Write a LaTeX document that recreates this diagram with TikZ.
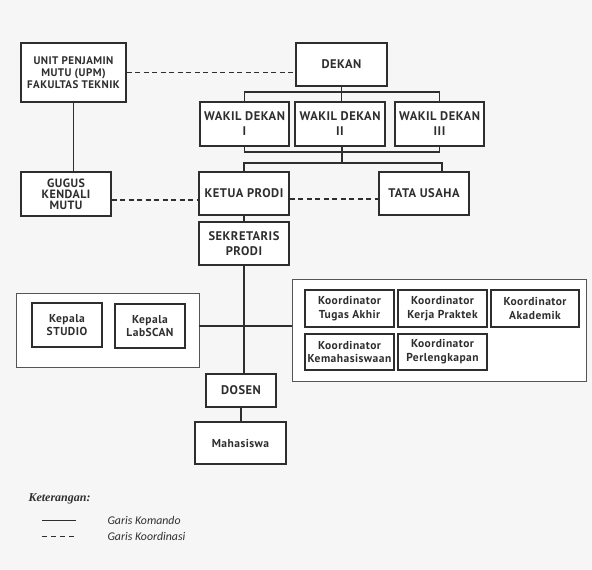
\documentclass[tikz,border=0pt]{standalone}
\usepackage{fontspec}
\setmainfont{Carlito}
\newfontfamily\boxup[LetterSpace=4]{PT Sans}
\newfontfamily\legserif{Liberation Serif}
\definecolor{bg}{HTML}{F6F6F6}
\definecolor{ink}{HTML}{2E2E2E}
\definecolor{grp}{HTML}{555555}
\begin{document}
\begin{tikzpicture}[x=1pt,y=-1pt,
  box/.style={draw=ink,line width=1.6pt,fill=white,text=ink,align=center,inner sep=0pt,
    font=\boxup\fontsize{12.5}{15}\selectfont\bfseries},
  upmbox/.style={box,font=\boxup\fontsize{11}{12.2}\selectfont\bfseries},
  gbox/.style={box,font=\boxup\fontsize{12}{11.2}\selectfont\bfseries},
  sbox/.style={box,font=\boxup\fontsize{11.5}{13.8}\selectfont\bfseries},
  grpbox/.style={draw=grp,line width=0.8pt,fill=white,inner sep=0pt},
  cmd/.style={draw=ink,line width=1.1pt},
  coord/.style={draw=ink,line width=1.1pt,dash pattern=on 5pt off 3.5pt}]
\path[fill=bg] (0,0) rectangle (592,570);
\useasboundingbox (0,0) rectangle (592,570);
% groups
\node[grpbox,minimum width=183,minimum height=74] (lgrp) at (107.5,330) {};
\node[grpbox,minimum width=294,minimum height=102] (rgrp) at (439,330) {};
% nodes
\node[upmbox,minimum width=105,minimum height=59] (upm) at (73.5,72.5) {UNIT PENJAMIN\\MUTU (UPM)\\FAKULTAS TEKNIK};
\node[box,minimum width=91,minimum height=43] (dekan) at (341.5,64.5) {DEKAN};
\node[box,minimum width=89,minimum height=44] (wd1) at (244.5,124) {WAKIL DEKAN\\I};
\node[box,minimum width=90,minimum height=44] (wd2) at (340,124) {WAKIL DEKAN\\II};
\node[box,minimum width=89,minimum height=44] (wd3) at (439.5,124) {WAKIL DEKAN\\III};
\node[box,minimum width=90,minimum height=43] (ketua) at (244,193.5) {KETUA PRODI};
\node[box,minimum width=90,minimum height=43] (tata) at (424,193.5) {TATA USAHA};
\node[gbox,minimum width=90,minimum height=44] (gugus) at (66,194) {GUGUS\\KENDALI\\MUTU};
\node[box,minimum width=90,minimum height=43] (sekr) at (244,243.5) {SEKRETARIS\\PRODI};
\node[sbox,minimum width=70,minimum height=44] (studio) at (67,325) {Kepala\\STUDIO};
\node[sbox,minimum width=70,minimum height=44] (lab) at (150,326) {Kepala\\LabSCAN};
\node[box,minimum width=70,minimum height=33] (dosen) at (241,390.5) {DOSEN};
\node[sbox,minimum width=91,minimum height=42] (mhs) at (240.5,443) {Mahasiswa};
\node[sbox,minimum width=89,minimum height=37] (kta) at (349.5,308.5) {Koordinator\\Tugas Akhir};
\node[sbox,minimum width=89,minimum height=37] (kkp) at (442.5,308.5) {Koordinator\\Kerja Praktek};
\node[sbox,minimum width=88,minimum height=37] (kak) at (535,308.5) {Koordinator\\Akademik};
\node[sbox,minimum width=89,minimum height=36] (kkm) at (349.5,352) {Koordinator\\Kemahasiswaan};
\node[sbox,minimum width=89,minimum height=36] (kpl) at (442.5,352) {Koordinator\\Perlengkapan};
% bus coordinates
\coordinate (b1) at (0,92);
\coordinate (b2) at (0,152);
\coordinate (b3) at (0,163);
\coordinate (dk) at (342,0);
\coordinate (tx) at (442,0);
\coordinate (hl) at (0,326);
\coordinate (dg) at (0,200);
\coordinate (dt) at (0,199);
% command lines
\draw[cmd] (dekan.south) -- (dekan.south |- wd2.north);
\draw[cmd] (wd1.north) -- (wd1.north |- b1) -- (wd3.north |- b1) -- (wd3.north);
\draw[cmd] (wd1.south) -- (wd1.south |- b2) -- (wd3.south |- b2) -- (wd3.south);
\draw[cmd] (dk |- wd2.south) -- (dk |- b3);
\draw[cmd] (ketua.north) -- (ketua.north |- b3) -- (tx |- b3) -- (tx |- tata.north);
\draw[cmd] (upm.south) -- (upm.south |- gugus.north);
\draw[cmd] (ketua.south) -- (sekr.north);
\draw[cmd] (sekr.south) -- (sekr.south |- dosen.north);
\draw[cmd] (lgrp.east |- hl) -- (rgrp.west |- hl);
\draw[cmd] (dosen.south) -- (dosen.south |- mhs.north);
% coordination lines
\draw[coord] (upm.east) -- (upm.east -| dekan.west);
\draw[coord] (gugus.east |- dg) -- (ketua.west |- dg);
\draw[coord] (ketua.east |- dt) -- (tata.west |- dt);
% legend
\node[anchor=west,text=ink,font=\legserif\fontsize{12}{14}\selectfont\bfseries\itshape] (ket) at (25,499) {Keterangan:};
\coordinate (l1a) at (42,520); \coordinate (l1b) at (76,520);
\coordinate (l2a) at (42,536); \coordinate (l2b) at (76,536);
\draw[draw=ink,line width=0.9pt] (l1a) -- (l1b);
\draw[draw=ink,line width=0.9pt,dash pattern=on 5pt off 4pt] (l2a) -- (l2b);
\node[anchor=west,text=ink,font=\fontsize{11.8}{13}\selectfont\itshape] (gk) at (104,520) {Garis Komando};
\node[anchor=west,text=ink,font=\fontsize{11.8}{13}\selectfont\itshape] (gko) at (104,536) {Garis Koordinasi};
\end{tikzpicture}
\end{document}
